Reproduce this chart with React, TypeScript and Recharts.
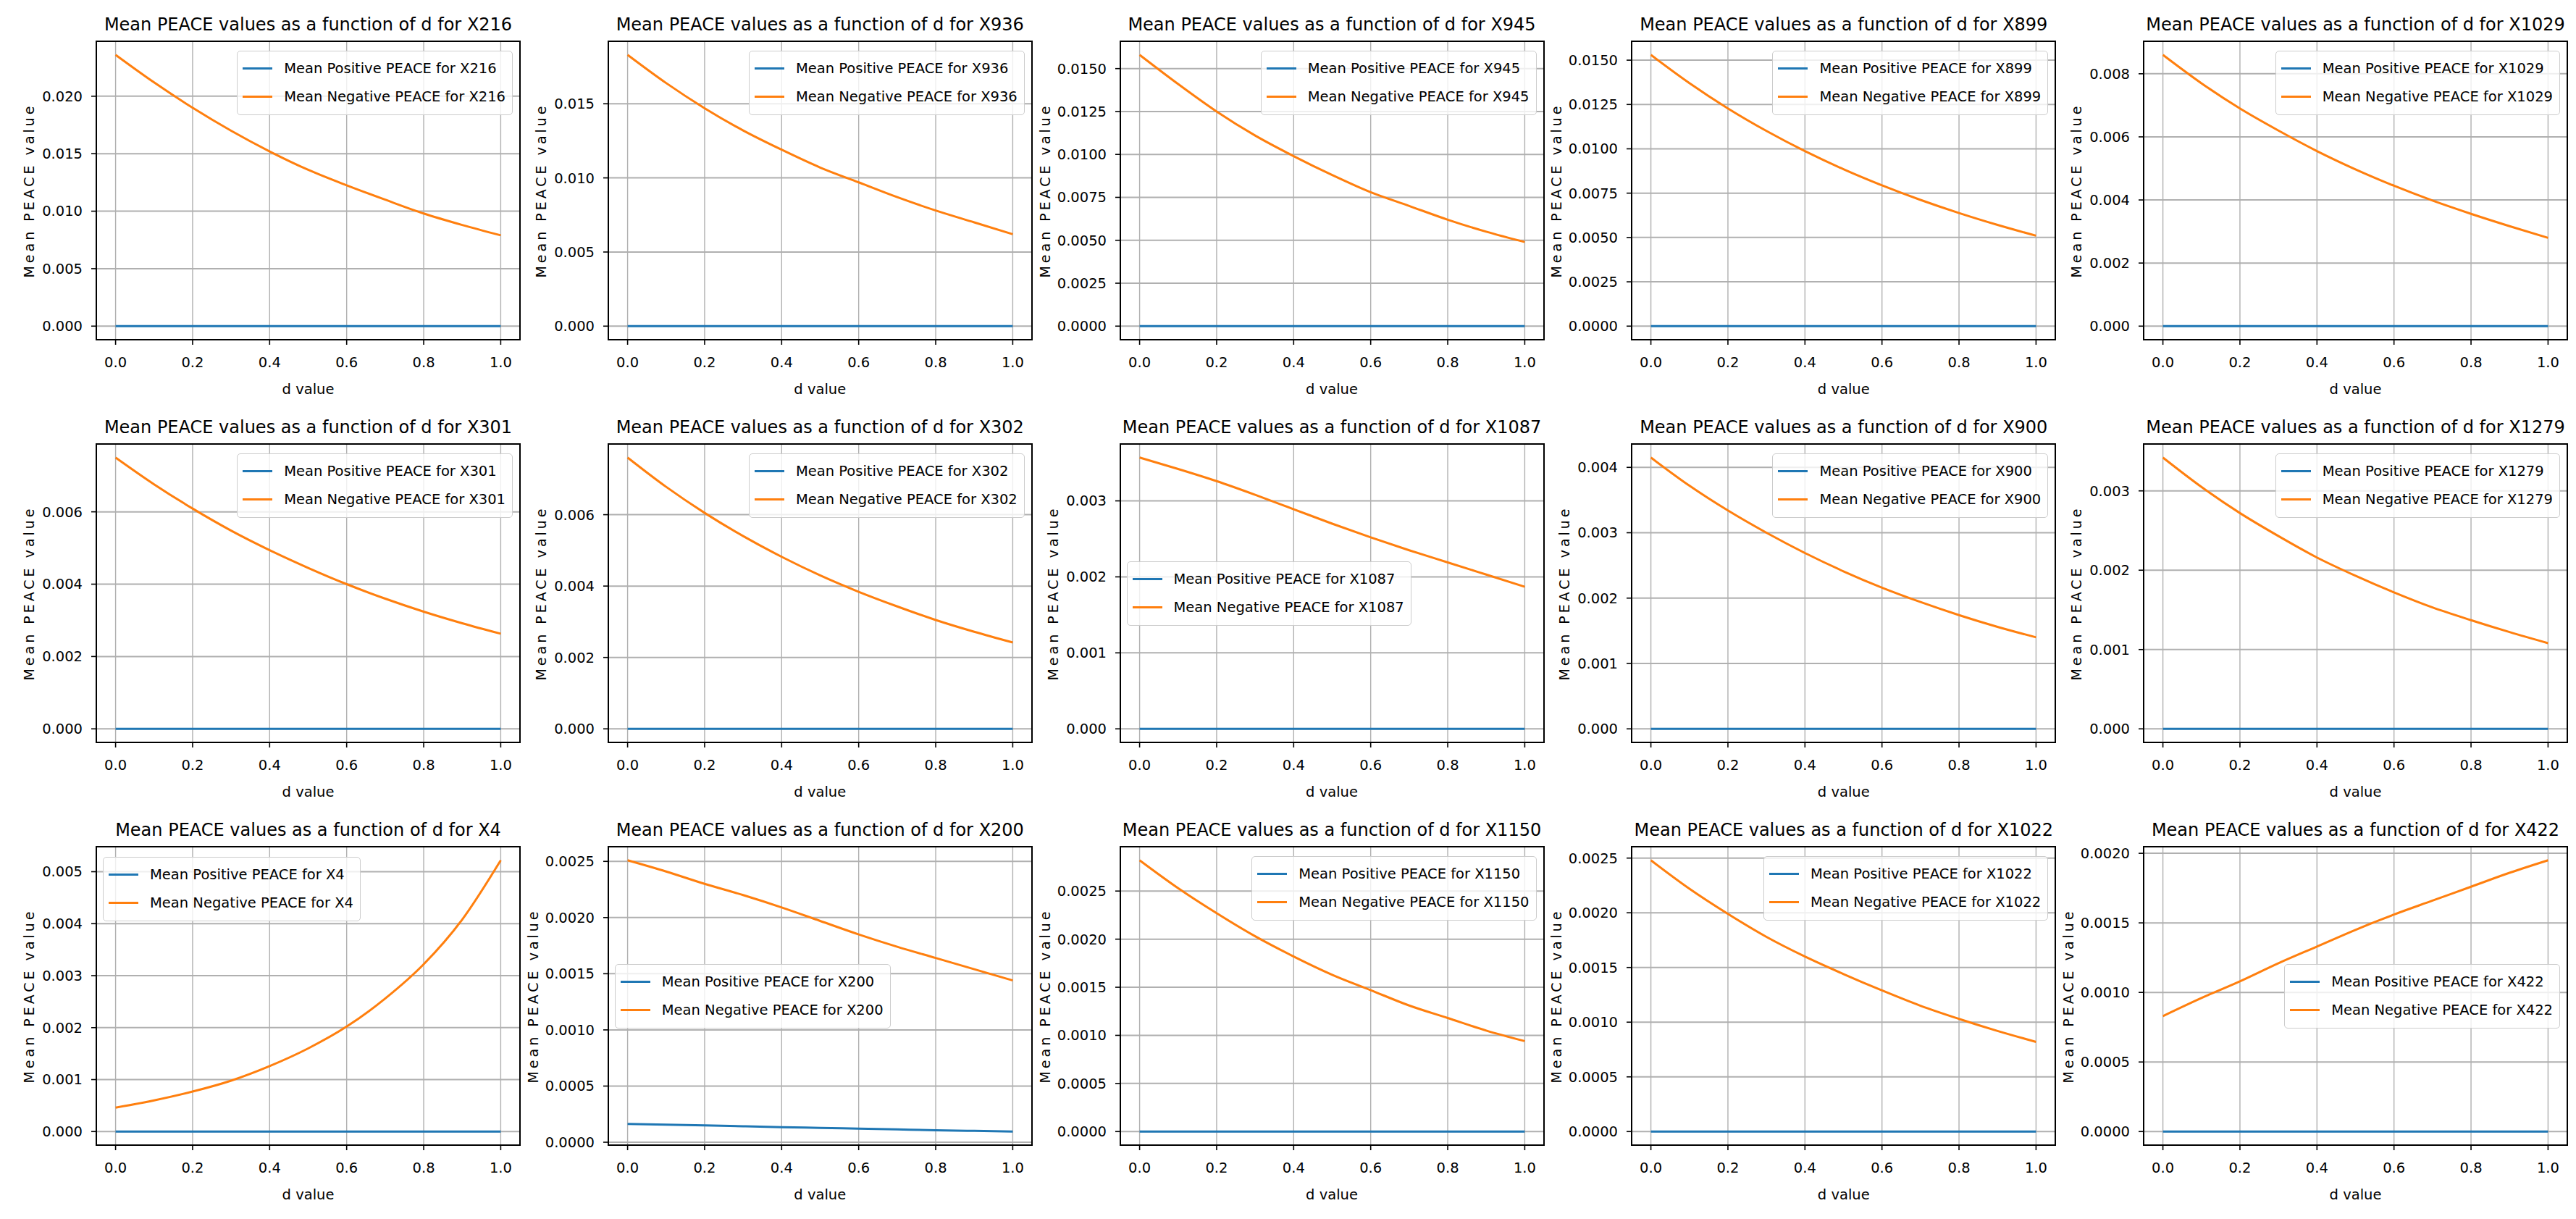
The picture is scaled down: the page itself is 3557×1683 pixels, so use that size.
import React from 'react'
import { LineChart, Line, XAxis, YAxis, CartesianGrid, Legend } from 'recharts'

// d values sampled along the x axis
const dValues = [0, 0.1, 0.2, 0.3, 0.4, 0.5, 0.6, 0.7, 0.8, 0.9, 1.0]
const xTicks = [0, 0.2, 0.4, 0.6, 0.8, 1.0]

const zeros = [0, 0, 0, 0, 0, 0, 0, 0, 0, 0, 0]

// negative PEACE curves
const negX216 = [0.0236, 0.0212, 0.019, 0.017, 0.0152, 0.0136, 0.01225, 0.011, 0.0098, 0.0088, 0.0079]
const negX936 = [0.0183, 0.0164, 0.0147, 0.0132, 0.0119, 0.0107, 0.0097, 0.0087, 0.0078, 0.007, 0.0062]
const negX945 = [0.0158, 0.0141, 0.0125, 0.0111, 0.0099, 0.0088, 0.0078, 0.007, 0.0062, 0.0055, 0.0049]
const negX899 = [0.0153, 0.01371, 0.01228, 0.01101, 0.00987, 0.00885, 0.00794, 0.00712, 0.00638, 0.00571, 0.0051]
const negX1029 = [0.0086, 0.0077, 0.0069, 0.0062, 0.00555, 0.00497, 0.00445, 0.00398, 0.00356, 0.00317, 0.0028]
const negX301 = [0.0075, 0.00676, 0.00609, 0.00548, 0.00494, 0.00445, 0.004, 0.0036, 0.00324, 0.00292, 0.00263]
const negX302 = [0.0076, 0.00678, 0.00605, 0.0054, 0.00482, 0.0043, 0.00384, 0.00343, 0.00305, 0.00272, 0.00242]
const negX1087 = [0.00357, 0.00342, 0.00326, 0.00308, 0.00289, 0.0027, 0.00252, 0.00235, 0.00219, 0.00203, 0.00187]
const negX900 = [0.00415, 0.00372, 0.00334, 0.003, 0.00269, 0.00241, 0.00216, 0.00194, 0.00174, 0.00156, 0.0014]
const negX1279 = [0.00342, 0.00305, 0.00272, 0.00243, 0.00216, 0.00193, 0.00172, 0.00153, 0.00137, 0.00122, 0.00108]
const negX4 = [0.00046, 0.0006, 0.00077, 0.00098, 0.00126, 0.0016, 0.00202, 0.00256, 0.00322, 0.00408, 0.00522]
const negX200 = [0.00251, 0.00241, 0.0023, 0.0022, 0.00209, 0.00197, 0.00185, 0.00174, 0.00164, 0.00154, 0.00144]
const posX200 = [0.000163, 0.000157, 0.00015, 0.000142, 0.000134, 0.000128, 0.000121, 0.000114, 0.000107, 0.000101, 0.000095]
const negX1150 = [0.00282, 0.00253, 0.00227, 0.00203, 0.00182, 0.00163, 0.00147, 0.00131, 0.00118, 0.00105, 0.00094]
const negX1022 = [0.00248, 0.00222, 0.00199, 0.00178, 0.0016, 0.00144, 0.00129, 0.00115, 0.00103, 0.00092, 0.00082]
const negX422 = [0.00083, 0.00096, 0.00108, 0.00121, 0.00133, 0.00145, 0.00156, 0.00166, 0.00176, 0.00186, 0.00195]

// y tick sets
const ticks020 = [0, 0.005, 0.01, 0.015, 0.02]
const ticks015 = [0, 0.005, 0.01, 0.015]
const ticks0150 = [0, 0.0025, 0.005, 0.0075, 0.01, 0.0125, 0.015]
const ticks008 = [0, 0.002, 0.004, 0.006, 0.008]
const ticks006 = [0, 0.002, 0.004, 0.006]
const ticks003 = [0, 0.001, 0.002, 0.003]
const ticks004 = [0, 0.001, 0.002, 0.003, 0.004]
const ticks005 = [0, 0.001, 0.002, 0.003, 0.004, 0.005]
const ticks0025 = [0, 0.0005, 0.001, 0.0015, 0.002, 0.0025]
const ticks0020 = [0, 0.0005, 0.001, 0.0015, 0.002]

type LegendSpot = 'ur' | 'ul' | 'cl' | 'cr'
type Panel = { name: string; pos: number[]; neg: number[]; ticks: number[]; digits: number; legend: LegendSpot }

const panels: Panel[] = [
    { name: 'X216', pos: zeros, neg: negX216, ticks: ticks020, digits: 3, legend: 'ur' },
    { name: 'X936', pos: zeros, neg: negX936, ticks: ticks015, digits: 3, legend: 'ur' },
    { name: 'X945', pos: zeros, neg: negX945, ticks: ticks0150, digits: 4, legend: 'ur' },
    { name: 'X899', pos: zeros, neg: negX899, ticks: ticks0150, digits: 4, legend: 'ur' },
    { name: 'X1029', pos: zeros, neg: negX1029, ticks: ticks008, digits: 3, legend: 'ur' },
    { name: 'X301', pos: zeros, neg: negX301, ticks: ticks006, digits: 3, legend: 'ur' },
    { name: 'X302', pos: zeros, neg: negX302, ticks: ticks006, digits: 3, legend: 'ur' },
    { name: 'X1087', pos: zeros, neg: negX1087, ticks: ticks003, digits: 3, legend: 'cl' },
    { name: 'X900', pos: zeros, neg: negX900, ticks: ticks004, digits: 3, legend: 'ur' },
    { name: 'X1279', pos: zeros, neg: negX1279, ticks: ticks003, digits: 3, legend: 'ur' },
    { name: 'X4', pos: zeros, neg: negX4, ticks: ticks005, digits: 3, legend: 'ul' },
    { name: 'X200', pos: posX200, neg: negX200, ticks: ticks0025, digits: 4, legend: 'cl' },
    { name: 'X1150', pos: zeros, neg: negX1150, ticks: ticks0025, digits: 4, legend: 'ur' },
    { name: 'X1022', pos: zeros, neg: negX1022, ticks: ticks0025, digits: 4, legend: 'ur' },
    { name: 'X422', pos: zeros, neg: negX422, ticks: ticks0020, digits: 4, legend: 'cr' },
]

const BLUE = '#1f77b4'
const ORANGE = '#ff7f0e'
const FONT = '"DejaVu Sans", Verdana, sans-serif'

const AX_W = 585
const AX_H = 412
const Y_AXIS_W = 133
const TOP_PAD = 10
const RIGHT_PAD = 6
const X_AXIS_H = 90
const CHART_W = Y_AXIS_W + AX_W + RIGHT_PAD
const CHART_H = TOP_PAD + AX_H + X_AXIS_H

const colLeft = (c: number) => 133 + c * 706.75
const rowTop = (r: number) => 57 + r * 556

function legendStyle(spot: LegendSpot): React.CSSProperties {
    const mid = TOP_PAD + AX_H / 2 - 44
    const base: React.CSSProperties = { width: 'auto', height: 'auto', bottom: 'auto' }
    if (spot === 'ur') return { ...base, left: 'auto', right: RIGHT_PAD + 10, top: TOP_PAD + 13 }
    if (spot === 'ul') return { ...base, left: Y_AXIS_W + 9, right: 'auto', top: TOP_PAD + 14 }
    if (spot === 'cl') return { ...base, left: Y_AXIS_W + 9, right: 'auto', top: mid }
    return { ...base, left: 'auto', right: RIGHT_PAD + 10, top: mid }
}

function renderLegend(props: any) {
    // positive series first, as in the plotting order
    const items = [...(props.payload || [])].sort((a: any, b: any) =>
        a.dataKey === 'pos' ? -1 : b.dataKey === 'pos' ? 1 : 0
    )
    return (
        <div
            style={{
                background: 'rgba(255,255,255,0.8)',
                border: '1.6px solid #cccccc',
                borderRadius: 5,
                padding: '4px 9px 5px 7px',
                fontFamily: FONT,
                fontSize: 19.5,
                color: '#000',
            }}
        >
            {items.map((it: any) => (
                <div key={it.value} style={{ display: 'flex', alignItems: 'center', height: 39 }}>
                    <div style={{ width: 41, height: 3, background: it.color, marginRight: 16 }} />
                    <span style={{ whiteSpace: 'nowrap' }}>{it.value}</span>
                </div>
            ))}
        </div>
    )
}

function PanelChart({ p, idx }: { p: Panel; idx: number }) {
    const col = idx % 5
    const row = Math.floor(idx / 5)
    const left = colLeft(col)
    const top = rowTop(row)
    const data = dValues.map((d, i) => ({ d, pos: p.pos[i], neg: p.neg[i] }))
    const all = [...p.pos, ...p.neg]
    const lo = Math.min(...all)
    const hi = Math.max(...all)
    const pad = (hi - lo) * 0.05
    const yLabelOffset = p.digits === 4 ? 104 : 93
    const tickStyle = { fontFamily: FONT, fontSize: 19.5, fill: '#000' }

    return (
        <>
            <div
                style={{
                    position: 'absolute',
                    left,
                    width: AX_W,
                    top: top - 37,
                    lineHeight: '28px',
                    textAlign: 'center',
                    fontFamily: FONT,
                    fontSize: 24,
                    whiteSpace: 'nowrap',
                    color: '#000',
                }}
            >
                Mean PEACE values as a function of d for {p.name}
            </div>
            <div style={{ position: 'absolute', left: left - Y_AXIS_W, top: top - TOP_PAD }}>
                <LineChart
                    width={CHART_W}
                    height={CHART_H}
                    data={data}
                    margin={{ top: TOP_PAD, right: RIGHT_PAD, bottom: 0, left: 0 }}
                >
                    <CartesianGrid horizontal vertical={false} stroke="#b0b0b0" strokeWidth={2} />
                    <CartesianGrid horizontal={false} vertical stroke="#b0b0b0" strokeWidth={1.4} />
                    <XAxis
                        dataKey="d"
                        type="number"
                        domain={[-0.05, 1.05]}
                        ticks={xTicks}
                        interval={0}
                        allowDataOverflow
                        height={X_AXIS_H}
                        axisLine={false}
                        tickSize={7}
                        tickMargin={17}
                        tickLine={{ stroke: '#000', strokeWidth: 1.6 }}
                        tick={tickStyle}
                        tickFormatter={(v: number) => v.toFixed(1)}
                    />
                    <YAxis
                        type="number"
                        domain={[lo - pad, hi + pad]}
                        ticks={p.ticks}
                        interval={0}
                        allowDataOverflow
                        width={Y_AXIS_W}
                        axisLine={false}
                        tickSize={7}
                        tickMargin={12}
                        tickLine={{ stroke: '#000', strokeWidth: 1.6 }}
                        tick={tickStyle}
                        tickFormatter={(v: number) => v.toFixed(p.digits)}
                    />
                    <Legend
                        layout="vertical"
                        align="center"
                        verticalAlign="middle"
                        content={renderLegend}
                        wrapperStyle={legendStyle(p.legend)}
                    />
                    <Line
                        type="monotone"
                        dataKey="pos"
                        name={`Mean Positive PEACE for ${p.name}`}
                        stroke={BLUE}
                        strokeWidth={3}
                        dot={false}
                        isAnimationActive={false}
                    />
                    <Line
                        type="monotone"
                        dataKey="neg"
                        name={`Mean Negative PEACE for ${p.name}`}
                        stroke={ORANGE}
                        strokeWidth={3}
                        dot={false}
                        isAnimationActive={false}
                    />
                </LineChart>
            </div>
            <div
                style={{
                    position: 'absolute',
                    left: left - 1,
                    top: top - 1,
                    width: AX_W + 2,
                    height: AX_H + 2,
                    border: '2px solid #000',
                    boxSizing: 'border-box',
                    pointerEvents: 'none',
                }}
            />
            <div
                style={{
                    position: 'absolute',
                    left: left - yLabelOffset,
                    top: top + AX_H / 2,
                    transform: 'translate(-50%, -50%) rotate(-90deg)',
                    fontFamily: FONT,
                    fontSize: 19,
                    letterSpacing: 4,
                    whiteSpace: 'nowrap',
                    color: '#000',
                }}
            >
                Mean PEACE value
            </div>
            <div
                style={{
                    position: 'absolute',
                    left,
                    width: AX_W,
                    top: top + AX_H + 69 - 12,
                    lineHeight: '24px',
                    textAlign: 'center',
                    fontFamily: FONT,
                    fontSize: 19.5,
                    color: '#000',
                }}
            >
                d value
            </div>
        </>
    )
}

export default function App() {
    return (
        <div
            style={{
                position: 'absolute',
                left: 0,
                top: 0,
                width: 3557,
                height: 1683,
                background: '#fff',
                overflow: 'hidden',
            }}
        >
            {panels.map((p, i) => (
                <PanelChart key={p.name} p={p} idx={i} />
            ))}
        </div>
    )
}
